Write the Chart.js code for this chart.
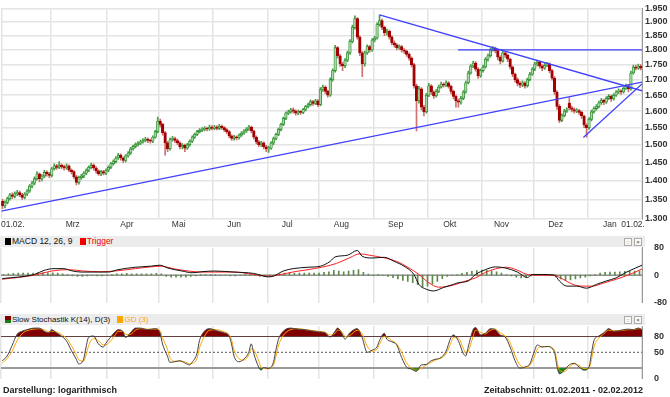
<!DOCTYPE html>
<html>
<head>
<meta charset="utf-8">
<script src="https://cdn.jsdelivr.net/npm/chart.js@4.4.1/dist/chart.umd.min.js"></script>
<style>
  body { margin: 0; background: #fff; font-family: "Liberation Sans", Arial, sans-serif; }
  #wrap { position: relative; width: 670px; height: 397px; overflow: hidden; }
  canvas { position: absolute; left: 0; }
  .hdr { position: absolute; left: 0; width: 645px; height: 11px; background: #ececec; font-size: 8.5px; line-height: 11px; color: #111; white-space: nowrap; z-index: 2; }
  .sq { display: inline-block; width: 6px; height: 7px; vertical-align: -1px; margin: 0 1px 0 5px; }
  .btn { position: absolute; top: 2px; width: 6px; height: 6px; border: 1px solid #aaa; background: #fafafa; font-size: 6px; line-height: 6px; text-align: center; color: #444; }
  .foot { position: absolute; top: 384px; font-size: 9px; font-weight: bold; color: #222; line-height: 12px; white-space: nowrap; }
</style>
</head>
<body>
<div id="wrap">
  <canvas id="main" width="670" height="232" style="top:0"></canvas>
  <canvas id="macd" width="670" height="74" style="top:238px"></canvas>
  <canvas id="stoch" width="670" height="72" style="top:316px"></canvas>

  <div class="hdr" style="top:236px"><span class="sq" style="background:#000"></span>MACD 12, 26, 9 <span class="sq" style="background:#e00"></span><span style="color:#e00">Trigger</span><span class="btn" style="right:13px">::</span><span class="btn" style="right:3px">×</span></div>
  <div class="hdr" style="top:314px; font-size:8px"><span class="sq" style="background:linear-gradient(#800000 60%, #1a7a1a 60%)"></span>Slow Stochastik K(14), D(3) <span class="sq" style="background:#ffa500"></span><span style="color:#ffa500">GD (3)</span><span class="btn" style="right:13px">::</span><span class="btn" style="right:3px">×</span></div>

  <div class="foot" style="left:3px">Darstellung: logarithmisch</div>
  <div class="foot" style="right:27px">Zeitabschnitt: 01.02.2011 - 02.02.2012</div>
</div>

<script>
// trading days 01.02.2011 .. 02.02.2012, index 0..259
const monthStarts = [0, 20, 43, 64, 86, 108, 129, 151, 173, 195, 216, 238, 260];
const monthLabels = ['01.02.', 'Mrz', 'Apr', 'Mai', 'Jun', 'Jul', 'Aug', 'Sep', 'Okt', 'Nov', 'Dez', 'Jan', '01.02.'];
const labelDays = [4.7, 29, 51, 72, 94.5, 116, 138, 160, 182, 203, 225, 247, 256.4];
const priceTicks = [1300, 1350, 1400, 1450, 1500, 1550, 1600, 1650, 1700, 1750, 1800, 1850, 1900, 1950];

const opens = [
  1345,1333,1342,1352,1362,1358,1365,1368,1362,1355,1364,1372,1385,1393,1405,1418,1404,1412,1422,1418,
  1414,1432,1440,1436,1442,1438,1434,1440,1428,1424,1410,1395,1408,1412,1420,1428,1436,1442,1434,1426,1418,1424,1420,
  1428,1436,1446,1452,1462,1470,1462,1455,1468,1476,1488,1495,1500,1504,1508,1512,1516,1512,1510,1522,1538,
  1570,1560,1535,1505,1488,1515,1518,1512,1505,1494,1498,1490,1500,1510,1522,1530,1538,1542,1545,1548,1546,1552,
  1548,1552,1548,1554,1550,1544,1538,1526,1518,1522,1520,1528,1534,1540,1546,1552,1540,1522,1508,1500,1505,1494,
  1488,1490,1505,1518,1530,1545,1560,1578,1594,1598,1604,1600,1594,1598,1596,1605,1614,1620,1630,1624,1632,
  1620,1668,1676,1662,1650,1700,1730,1808,1780,1752,1746,1765,1790,1830,1880,1912,1845,1790,1752,1790,1812,1800,
  1835,1842,1890,1905,1880,1860,1866,1846,1825,1818,1808,1812,1800,1796,1785,1772,1750,1680,1632,1670,1612,1598,
  1650,1680,1660,1648,1662,1676,1686,1682,1690,1678,1662,1646,1632,1628,1640,1660,1690,1722,1745,1755,1735,1712,
  1730,1742,1768,1780,1800,1806,1798,1775,1762,1790,1782,1768,1742,1718,1700,1688,1682,1690,1680,1700,1718,
  1735,1752,1758,1745,1738,1748,1752,1730,1705,1660,1615,1572,1586,1600,1625,1610,1605,1600,1602,1596,1585,1558,
  1550,1575,1598,1608,1614,1626,1634,1628,1640,1646,1638,1650,1660,1664,1660,1672,1680,1670,1722,1742,1738,1745
];
const highs = [
  1350,1346,1356,1366,1367,1370,1374,1372,1366,1368,1376,1389,1398,1410,1424,1421,1416,1428,1426,1422,
  1436,1446,1444,1452,1446,1442,1446,1443,1432,1427,1414,1412,1417,1424,1432,1440,1448,1446,1438,1430,1428,1428,1432,
  1440,1450,1457,1466,1475,1474,1465,1472,1480,1492,1499,1505,1509,1513,1518,1521,1520,1516,1526,1542,1582,
  1576,1563,1538,1510,1520,1524,1522,1516,1508,1503,1502,1504,1514,1526,1534,1542,1547,1550,1553,1552,1558,1556,
  1557,1556,1560,1558,1553,1547,1541,1529,1527,1526,1532,1538,1544,1550,1557,1555,1543,1526,1512,1510,1508,1498,
  1496,1509,1522,1534,1549,1564,1582,1598,1603,1609,1610,1604,1603,1602,1609,1618,1625,1635,1634,1637,1636,
  1674,1682,1680,1666,1706,1736,1816,1812,1785,1758,1770,1796,1836,1888,1922,1916,1850,1795,1796,1818,1816,1840,
  1848,1897,1925,1910,1885,1874,1870,1850,1832,1822,1818,1816,1805,1800,1790,1776,1754,1686,1678,1674,1618,1656,
  1688,1684,1664,1668,1682,1692,1690,1696,1694,1682,1666,1650,1638,1646,1665,1695,1728,1750,1762,1760,1740,1736,
  1748,1774,1786,1806,1812,1810,1802,1780,1796,1794,1786,1772,1746,1722,1706,1694,1696,1694,1705,1724,1740,
  1758,1765,1762,1750,1754,1758,1756,1734,1710,1665,1620,1592,1606,1610,1642,1616,1610,1608,1606,1600,1588,1562,
  1580,1603,1613,1620,1631,1640,1638,1645,1652,1650,1655,1665,1670,1668,1677,1686,1684,1728,1748,1748,1752,1750
];
const lows = [
  1326,1328,1338,1348,1352,1354,1360,1357,1350,1351,1360,1368,1380,1389,1401,1396,1399,1408,1412,1408,
  1410,1428,1430,1432,1432,1428,1430,1424,1418,1404,1388,1390,1403,1408,1416,1424,1432,1428,1420,1414,1413,1415,1416,
  1424,1432,1442,1448,1458,1456,1449,1451,1464,1472,1484,1491,1496,1500,1504,1508,1506,1504,1506,1518,1534,
  1552,1528,1470,1480,1484,1510,1506,1500,1488,1488,1480,1486,1496,1506,1518,1526,1534,1538,1540,1540,1542,1543,
  1544,1543,1544,1545,1538,1532,1520,1512,1513,1514,1516,1524,1530,1536,1542,1534,1516,1502,1494,1495,1488,1480,
  1478,1486,1500,1514,1526,1540,1556,1574,1589,1594,1594,1588,1589,1590,1592,1601,1610,1616,1618,1620,1614,
  1616,1662,1655,1644,1646,1695,1725,1772,1744,1730,1740,1760,1785,1825,1874,1838,1780,1710,1745,1785,1792,1795,
  1828,1838,1884,1872,1850,1852,1838,1818,1810,1800,1802,1792,1788,1778,1765,1742,1672,1540,1625,1604,1585,1594,
  1645,1652,1640,1644,1658,1672,1676,1677,1672,1654,1638,1612,1612,1622,1636,1656,1686,1718,1740,1728,1704,1708,
  1725,1738,1762,1775,1796,1790,1766,1752,1758,1774,1760,1735,1710,1692,1680,1674,1677,1672,1676,1696,1714,
  1730,1746,1738,1730,1734,1743,1722,1698,1652,1605,1565,1568,1582,1596,1604,1598,1594,1595,1590,1578,1550,1522,
  1545,1570,1594,1603,1610,1621,1620,1624,1636,1630,1634,1646,1655,1652,1656,1668,1660,1666,1718,1732,1734,1732
];
const closes = [
  1333,1342,1352,1362,1358,1365,1368,1362,1355,1364,1372,1385,1393,1405,1418,1404,1412,1422,1418,1414,
  1432,1440,1436,1442,1438,1434,1440,1428,1424,1410,1395,1408,1412,1420,1428,1436,1442,1434,1426,1418,1424,1420,1428,
  1436,1446,1452,1462,1470,1462,1455,1468,1476,1488,1495,1500,1504,1508,1512,1516,1512,1510,1522,1538,1570,
  1560,1535,1505,1488,1515,1518,1512,1505,1494,1498,1490,1500,1510,1522,1530,1538,1542,1545,1548,1546,1552,1548,
  1552,1548,1554,1550,1544,1538,1526,1518,1522,1520,1528,1534,1540,1546,1552,1540,1522,1508,1500,1505,1494,1488,
  1490,1505,1518,1530,1545,1560,1578,1594,1598,1604,1600,1594,1598,1596,1605,1614,1620,1630,1624,1632,1620,
  1668,1676,1662,1650,1700,1730,1808,1780,1752,1746,1765,1790,1830,1880,1912,1845,1790,1752,1790,1812,1800,1835,
  1842,1890,1905,1880,1860,1866,1846,1825,1818,1808,1812,1800,1796,1785,1772,1750,1680,1632,1670,1612,1598,1650,
  1680,1660,1648,1662,1676,1686,1682,1690,1678,1662,1646,1632,1628,1640,1660,1690,1722,1745,1755,1735,1712,1730,
  1742,1768,1780,1800,1806,1798,1775,1762,1790,1782,1768,1742,1718,1700,1688,1682,1690,1680,1700,1718,1735,
  1752,1758,1745,1738,1748,1752,1730,1705,1660,1615,1572,1586,1600,1604,1610,1605,1600,1602,1596,1585,1558,1550,
  1575,1598,1608,1614,1626,1634,1628,1640,1646,1638,1650,1660,1664,1660,1672,1680,1670,1722,1742,1738,1745,1738
];

// trend lines drawn on the price panel: [day, price]
const supportLine = [[0, 1320], [260, 1692]];
const downLine = [[153.5, 1926], [260, 1664]];
const resistLine = [[185.4, 1800], [260, 1800]];
const wedgeLine = [[236.2, 1521], [260, 1686]];

// MACD panel
const macdDays = [0,13,17,21,25,28,32,39,43,47,54,60,64,67,73,77,81,86,94,102,108,110,114,118,124,129,133,135,140,144,146,150,155,159,163,167,169,172,175,179,183,185,189,192,196,200,204,209,213,215,219,224,226,229,233,237,241,245,249,253,257,260];
const macdLine = [-10,2,14,19,19,13,9,9,9,16,23,26,29,21,12,7,10,12,9,5,-5,-3,12,19,23,26,40,53,58,72,55,50,52,40,26,2,-27,-41,-46,-36,-27,-22,-17,2,16,24,21,9,-7,2,2,0,-17,-32,-32,-38,-27,-17,-8,8,21,29];
const trigDays = [0,13,20,27,33,40,47,54,60,64.5,70,75.5,81,88,94,102,108,113,118.5,124,129.5,135.5,141,145,149,154.5,160,165,169,173,177,183,188,192,196,200,204.5,208.5,212.5,216.5,223.5,227.5,231.5,235.5,239.5,243.5,249,254.5,260];
const trigLine = [-12,0,12,16,12,10,13,19,24,26,18,12,9,9,9,2,-3,2,10,16,23,34,51,62,58,51,40,21,2,-22,-35,-29,-17,-8,8,18,23,16,3,0,0,-12,-27,-32,-32,-24,-12,2,18];
// histogram, one bar every second trading day
const histVals = [
  2,4,5,6,6,6,6,7,7,7, 7,6,4,2,-2,-4,-4,-2,0,-2, -2,0,2,4,4,5,4,4,4,4, 4,5,4,-4,-6,-6,-6,-6,-4,-2,
  2,2,2,2,0,0,-2,-2,0,2, 2,0,-4,-4,-2,0,4,6,6,6, 6,6,6,6,6,8,10,14,12,10, 12,14,16,8,3,0,2,0,-4,-7,
  -11,-15,-18,-22,-28,-34,-32,-26,-18,-10, -4,0,2,5,8,11,13,15,14,12, 10,6,2,-2,-6,-8,-6,-2,0,2,
  2,0,-5,-11,-16,-14,-11,-8,-6,-2, 2,6,8,9,9,10,11,11,12,12
];
const macdTicks = [-80, 0, 80];

// Slow Stochastik panel
const stochDays = [0,2,4,6,8,10,13,15,17,19,20,22,24,26,28,30,31,33,34,35,37,39,41,42,44,46,47,49,50,52,54,56,59,62,64,65,67,68,70,72,74,76,77,79,80,82,84,87,90,92,93,94,96,98,100,101,102,104,105,106,108,110,111,112,114,117,120,123,125,128,131,133,135,136,138,139,141,144,146,148,150,152,153,155,156,158,160,162,164,166,168,170,172,174,176,178,180,182,183,185,187,188,189,191,192,194,196,198,200,202,204,206,208,210,212,214,216,217,219,221,224,225,226,228,230,232,234,236,238,239,240,242,244,246,248,250,252,254,256,258,260];
const kLine = [34,43,63,84,90,93,96,96,90,87,93,87,81,72,54,37,28,37,60,78,81,66,60,67,79,90,93,89,78,87,96,96,93,95,87,66,43,31,32,34,30,26,31,48,72,90,95,91,87,81,66,43,32,37,50,66,48,22,16,21,19,31,54,74,90,96,94,93,91,89,87,79,90,96,84,75,87,95,78,50,54,60,72,86,75,70,64,40,22,18,14,26,27,34,37,40,52,78,83,72,48,43,60,93,97,83,86,95,93,83,79,60,34,20,22,28,54,64,60,61,50,24,9,16,26,29,22,16,22,48,72,81,87,95,90,91,93,94,93,96,93];
const dLine = [30,38,52,72,85,91,94,95,93,89,90,89,84,77,63,46,36,33,45,62,76,72,64,64,72,84,90,90,84,84,92,95,94,94,91,78,56,40,33,33,32,28,29,38,58,80,92,93,89,84,74,55,38,35,45,57,55,34,22,19,19,25,42,62,82,93,95,93,92,90,88,83,86,92,88,80,82,92,85,62,52,56,65,80,79,72,66,50,30,20,16,20,26,31,36,39,47,68,78,77,58,48,52,80,92,88,85,92,94,87,81,68,44,26,21,25,43,56,61,61,54,34,16,13,22,28,25,19,20,36,60,77,85,92,91,91,92,93,93,95,94];
const stochLevels = [80, 50, 20];
const stochTicks = [0, 50, 80];

const fmtPrice = v => Math.floor(Math.round(v) / 1000) + '.' + String(Math.round(v) % 1000).padStart(3, '0');
const pts = (days, vals) => days.map((d, i) => ({ x: Math.min(d + 0.5, 260), y: vals[i] }));
const seg = line => line.map(p => ({ x: p[0], y: p[1] }));

Chart.defaults.font.family = '"Liberation Sans", Arial, sans-serif';
Chart.defaults.font.size = 8;
Chart.defaults.color = '#333';
Chart.defaults.animation = false;
Chart.defaults.plugins.legend.display = false;
Chart.defaults.plugins.tooltip.enabled = false;

const gridX = () => ({
  type: 'linear', min: 0, max: 260, position: 'bottom', offset: false,
  afterBuildTicks: s => { s.ticks = monthStarts.map(v => ({ value: v })); },
  afterFit: s => { s.height = 0; },
  ticks: { display: false },
  grid: { color: '#e4e4e4', lineWidth: 1.5, drawTicks: false, offset: false },
  border: { display: false }
});

const rightY = (extra) => Object.assign({
  position: 'right',
  afterFit: s => { s.width = 28; },
  ticks: { padding: 4, autoSkip: false, color: '#333', font: { size: 9, weight: 'bold' } },
  border: { display: true, color: '#999', width: 1 }
}, extra);

// ---------- price panel ----------
const up = closes.map((c, i) => c >= opens[i]);
new Chart(document.getElementById('main'), {
  type: 'bar',
  data: {
    datasets: [
      {
        data: closes.map((c, i) => ({ x: i + 0.5, y: [lows[i], highs[i]] })),
        backgroundColor: up.map(u => u ? '#4aa04a' : '#d07070'),
        barThickness: 1, grouped: false, order: 3
      },
      {
        data: closes.map((c, i) => ({ x: i + 0.5, y: [Math.min(opens[i], c), Math.max(opens[i], c)] })),
        backgroundColor: up.map(u => u ? '#a6dba6' : '#a30000'),
        borderColor: up.map(u => u ? '#2a8a2a' : '#a30000'),
        borderWidth: 0.8, borderSkipped: false,
        barThickness: 2.6, minBarLength: 1, grouped: false, order: 2
      },
      { type: 'line', data: seg(supportLine), borderColor: '#4040ff', borderWidth: 1.3, pointRadius: 0, order: 1 },
      { type: 'line', data: seg(downLine), borderColor: '#4040ff', borderWidth: 1.3, pointRadius: 0, order: 1 },
      { type: 'line', data: seg(resistLine), borderColor: '#4040ff', borderWidth: 1.3, pointRadius: 0, order: 1 },
      { type: 'line', data: seg(wedgeLine), borderColor: '#4040ff', borderWidth: 1.3, pointRadius: 0, order: 1 }
    ]
  },
  options: {
    responsive: false, devicePixelRatio: 1,
    layout: { padding: { top: 4, left: 1, right: 0, bottom: 0 } },
    scales: {
      x: gridX(),
      xl: {
        type: 'linear', axis: 'x', min: 0, max: 260, position: 'bottom', offset: false,
        afterBuildTicks: s => { s.ticks = labelDays.map(v => ({ value: v })); },
        afterFit: s => { s.height = 13; },
        ticks: { callback: (v, i) => monthLabels[i], maxRotation: 0, autoSkip: false, padding: 1, color: '#333', font: { size: 8.5 } },
        grid: { display: false, drawTicks: false },
        border: { display: false }
      },
      y: rightY({
        type: 'logarithmic', min: 1300, max: 1950,
        afterBuildTicks: s => { s.ticks = priceTicks.map(v => ({ value: v })); },
        ticks: { padding: 3, autoSkip: false, color: '#333', font: { size: 9, weight: 'bold' }, callback: v => fmtPrice(v) },
        grid: { color: '#e4e4e4', lineWidth: 1.5, drawTicks: false }
      })
    }
  }
});

// ---------- MACD panel ----------
new Chart(document.getElementById('macd'), {
  type: 'bar',
  data: {
    datasets: [
      { type: 'line', data: [{ x: 0, y: 0 }, { x: 260, y: 0 }], borderColor: '#555', borderWidth: 1, pointRadius: 0, order: 5 },
      {
        data: histVals.map((v, i) => ({ x: i * 2 + 1, y: v })),
        backgroundColor: '#5d8a4a', barThickness: 1, grouped: false, order: 4
      },
      { type: 'line', data: pts(trigDays, trigLine), borderColor: '#ff2020', borderWidth: 1, pointRadius: 0, cubicInterpolationMode: 'monotone', order: 2 },
      { type: 'line', data: pts(macdDays, macdLine), borderColor: '#111', borderWidth: 1, pointRadius: 0, cubicInterpolationMode: 'monotone', order: 1 }
    ]
  },
  options: {
    responsive: false, devicePixelRatio: 1,
    layout: { padding: { top: 9.7, left: 1, right: 0, bottom: 8.5 } },
    scales: {
      x: gridX(),
      y: rightY({
        type: 'linear', min: -80, max: 80,
        afterBuildTicks: s => { s.ticks = macdTicks.map(v => ({ value: v })); },
        grid: { display: false }
      })
    }
  }
});

// ---------- Slow Stochastik panel ----------
const kPts = pts(stochDays, kLine);
new Chart(document.getElementById('stoch'), {
  type: 'line',
  data: {
    datasets: [
      { data: [{ x: 0, y: stochLevels[0] }, { x: 260, y: stochLevels[0] }], borderColor: '#555', borderWidth: 1, pointRadius: 0, order: 9 },
      { data: [{ x: 0, y: stochLevels[1] }, { x: 260, y: stochLevels[1] }], borderColor: '#555', borderWidth: 1, borderDash: [2, 2], pointRadius: 0, order: 9 },
      { data: [{ x: 0, y: stochLevels[2] }, { x: 260, y: stochLevels[2] }], borderColor: '#9a9a9a', borderWidth: 2, pointRadius: 0, order: 9 },
      {
        data: kPts, borderColor: 'rgba(0,0,0,0)', borderWidth: 0, pointRadius: 0, cubicInterpolationMode: 'monotone',
        fill: { target: { value: 80 }, above: '#800000', below: 'rgba(0,0,0,0)' }, order: 4
      },
      {
        data: kPts, borderColor: 'rgba(0,0,0,0)', borderWidth: 0, pointRadius: 0, cubicInterpolationMode: 'monotone',
        fill: { target: { value: 20 }, above: 'rgba(0,0,0,0)', below: '#178a17' }, order: 4
      },
      { data: pts(stochDays, dLine), borderColor: '#ffa500', borderWidth: 1, pointRadius: 0, cubicInterpolationMode: 'monotone', order: 2 },
      { data: kPts, borderColor: '#444', borderWidth: 1, pointRadius: 0, cubicInterpolationMode: 'monotone', order: 1 }
    ]
  },
  options: {
    responsive: false, devicePixelRatio: 1,
    layout: { padding: { top: 10, left: 1, right: 0, bottom: 5.7 } },
    scales: {
      x: gridX(),
      y: rightY({
        type: 'linear', min: 0, max: 100,
        afterBuildTicks: s => { s.ticks = stochTicks.map(v => ({ value: v })); },
        grid: { display: false }
      })
    }
  }
});
</script>
</body>
</html>
